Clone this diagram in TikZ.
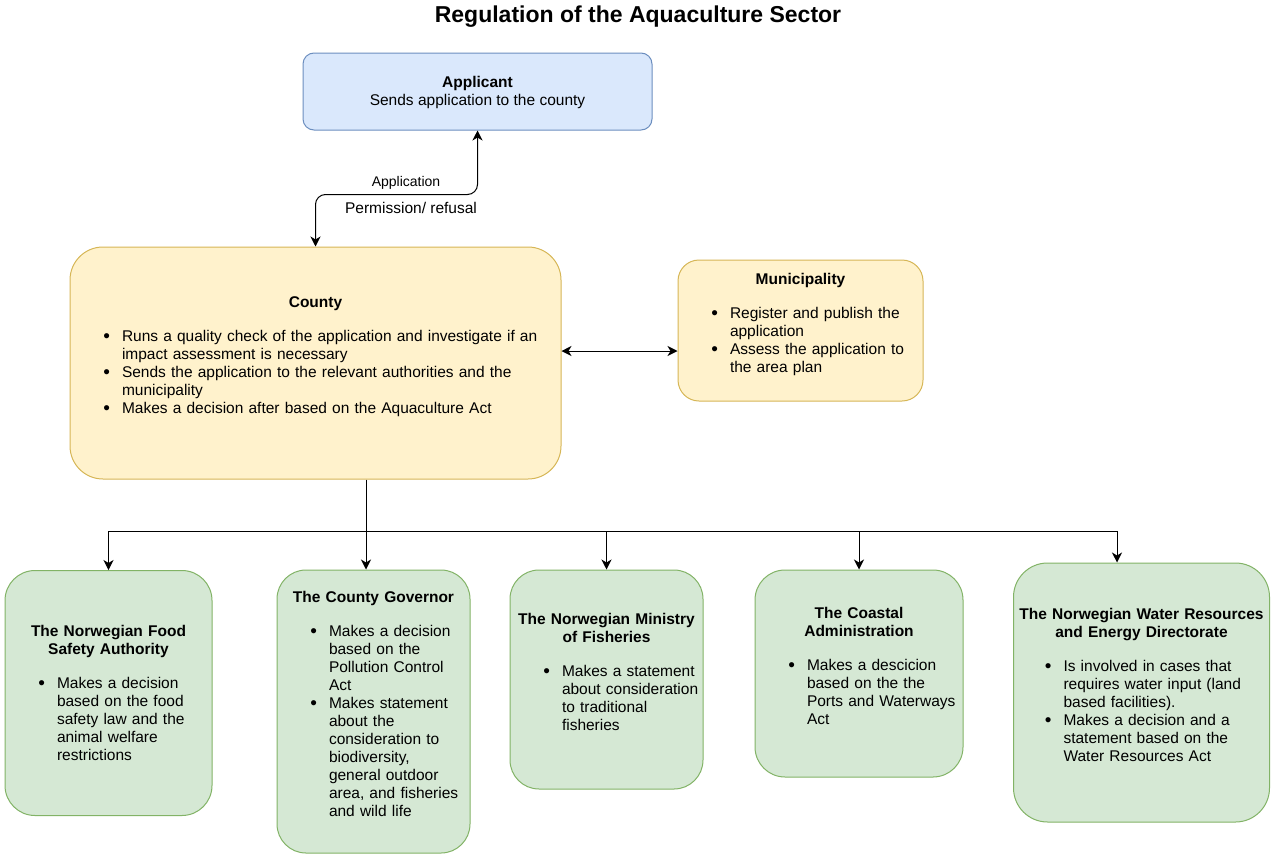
\documentclass[tikz,border=0pt]{standalone}
\usepackage{fontspec}
\setmainfont{Liberation Sans}
\usetikzlibrary{arrows.meta}
\definecolor{bluf}{HTML}{DAE8FC}
\definecolor{blud}{HTML}{6C8EBF}
\definecolor{ylwf}{HTML}{FFF2CC}
\definecolor{ylwd}{HTML}{D6B656}
\definecolor{grnf}{HTML}{D5E8D4}
\definecolor{grnd}{HTML}{82B366}
\newcommand{\hs}{\rule[-3.6pt]{0pt}{18pt}}
\newcommand{\hd}[1]{{\centering\bfseries\hs#1\hs\par}\vspace{16pt}\leftskip=52pt\relax}
\newcommand{\itm}[1]{\par\noindent\llap{\raisebox{-1pt}{\fontsize{19}{18}\selectfont\textbullet}\hspace{12pt}}\hs#1\hs\par}
\newcommand{\gap}{\vspace{15pt}\hrule height 0pt}

\begin{document}
\begin{tikzpicture}[
            x=1pt, y=-1pt,
            bx/.style={draw, line width=1pt, inner sep=0pt, font=\fontsize{15.5}{18}\selectfont}, bx/.default=,
            blu/.style={bx, fill=bluf, draw=blud}, blu/.default=,
            ylw/.style={bx, fill=ylwf, draw=ylwd}, ylw/.default=,
            grn/.style={bx, fill=grnf, draw=grnd}, grn/.default=,
            arr/.style={-{Stealth[length=10pt,width=10pt,inset=3pt]}, line width=1pt},
            dbl/.style={{Stealth[length=10pt,width=10pt,inset=3pt]}-{Stealth[length=10pt,width=10pt,inset=3pt]}, line width=1pt},
            lbl/.style={font=\fontsize{15.5}{18}\selectfont},
        ]
        \useasboundingbox (0,0) rectangle (1271,854);
        \node[anchor=base, font=\fontsize{23}{27}\selectfont\bfseries] (ttl) at (638,22.7)
            {Regulation of the Aquaculture Sector};
        \node[blu, rounded corners=11pt, minimum width=349pt, minimum height=77pt, align=center] (app) at (477.5,91.5)
            {\hs\textbf{Applicant}\\Sends application to the county\hs};
        \node[ylw, rounded corners=33pt, minimum width=491pt, minimum height=232pt, text width=491pt] (county) at (315.5,363)
            {\hd{County}
            \itm{Runs a quality check of the application and investigate if an\\impact assessment is necessary}
            \itm{Sends the application to the relevant authorities and the\\municipality}
            \itm{Makes a decision after based on the Aquaculture Act}\gap};
        \node[ylw, rounded corners=21pt, minimum width=245pt, minimum height=141pt, text width=245pt] (muni) at (800.5,330.5)
            {\hd{Municipality}
            \itm{Register and publish the\\application}
            \itm{Assess the application to\\the area plan}\gap};
        % agencies
        \node[grn, rounded corners=30pt, minimum width=207pt, minimum height=245pt, text width=207pt] (food) at (108.5,693)
            {\hd{The Norwegian Food\\Safety Authority}
            \itm{Makes a decision\\based on the food\\safety law and the\\animal welfare\\restrictions}};
        \node[grn, rounded corners=29pt, minimum width=193pt, minimum height=283pt, text width=193pt] (gov) at (373.5,711.5)
            {\hd{The County Governor}
            \itm{Makes a decision\\based on the\\Pollution Control\\Act}
            \itm{Makes statement\\about the\\consideration to\\biodiversity,\\general outdoor\\area, and fisheries\\and wild life}\gap};
        \node[grn, rounded corners=29pt, minimum width=193pt, minimum height=219pt, text width=193pt] (mini) at (606.5,679.5)
            {\hd{The Norwegian Ministry\\of Fisheries}
            \itm{Makes a statement\\about consideration\\to traditional\\fisheries}\gap};
        \node[grn, rounded corners=30pt, minimum width=208pt, minimum height=207pt, text width=208pt] (coast) at (859,673.5)
            {\hd{The Coastal\\Administration}
            \itm{Makes a descicion\\based on the the\\Ports and Waterways\\Act}\gap};
        \node[grn, rounded corners=34pt, minimum width=256pt, minimum height=259pt, text width=256pt] (water) at (1141.5,692.5)
            {\hd{The Norwegian Water Resources\\and Energy Directorate}\leftskip=50pt
            \itm{Is involved in cases that\\requires water input (land\\based facilities).}
            \itm{Makes a decision and a\\statement based on the\\Water Resources Act}\gap};
        % connectors
        \draw[dbl, rounded corners=10pt] (county.north) -- ++(0,-52) -| (app.south);
        \node[lbl, font=\fontsize{14}{16}\selectfont] (lapp) at (406,183) {Application};
        \node[lbl] (lperm) at (411,208) {Permission/ refusal};
        \coordinate (mid) at (620,351);
        \draw[dbl] (county.east |- mid) -- (muni.west |- mid);
        \coordinate (split) at (366,531);
        \coordinate (wx) at (1117,531);
        \draw[arr] (split |- county.south) -- (split |- gov.north);
        \draw[arr] (split) -| (food.north);
        \draw[arr] (split) -- (wx) -- (wx |- water.north);
        \draw[arr] (split -| mini.north) -- (mini.north);
        \draw[arr] (split -| coast.north) -- (coast.north);
    \end{tikzpicture}
\end{document}
